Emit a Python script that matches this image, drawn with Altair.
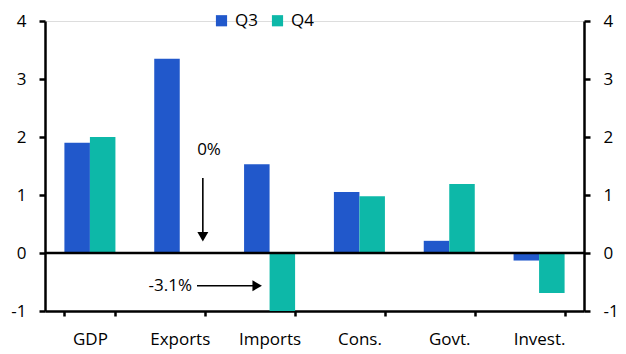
import altair as alt
import pandas as pd

categories = ["GDP", "Exports", "Imports", "Cons.", "Govt.", "Invest."]
q3 = [1.9, 3.35, 1.53, 1.05, 0.21, -0.13]
q4 = [2.0, 0.0, -3.1, 0.98, 1.19, -0.69]
series = ["Q3", "Q4"]
colors = ["#2158CB", "#0DB8A8"]
y_ticks = [-1, 0, 1, 2, 3, 4]

# annotation arrows (in a 0..6 category-position space) and labels
arrow_x = [1.757, 1.692]
arrow_x2 = [1.757, 2.362]
arrow_y = [1.293, -0.564]
arrow_y2 = [0.28, -0.564]
head_shape = ["triangle-down", "triangle-right"]
label_text = ["0%", "-3.1%"]
label_x = [1.826, 1.637]
label_y = [1.78, -0.564]
label_align = ["center", "right"]

rows = []
for c, a, b in zip(categories, q3, q4):
    rows.append({"cat": c, "series": "Q3", "value": a})
    rows.append({"cat": c, "series": "Q4", "value": b})
df = pd.DataFrame(rows)

FONT = "Open Sans"
FS = 17

yscale = alt.Scale(domain=[-1, 4], nice=False, zero=False, clamp=True)

bars = alt.Chart(df).mark_bar().encode(
    x=alt.X("cat:N", sort=categories, title=None,
            scale=alt.Scale(paddingInner=0.432, paddingOuter=0.216),
            axis=alt.Axis(labelAngle=0, tickBand="extent", domainColor="black",
                          domainWidth=2.5, tickColor="black", tickWidth=2.5,
                          tickSize=5, labelPadding=15, labelFont=FONT,
                          labelFontSize=FS, labelColor="black", grid=False)),
    xOffset=alt.XOffset("series:N", sort=series),
    y=alt.Y("value:Q", scale=yscale, title=None,
            axis=alt.Axis(values=y_ticks, labelExpr="datum.value + ''",
                          domainColor="black", domainWidth=2.5, tickColor="black",
                          tickWidth=2.5, tickSize=6, labelPadding=13,
                          labelFont=FONT, labelFontSize=FS, labelColor="black",
                          grid=False)),
    color=alt.Color("series:N", sort=series,
                    scale=alt.Scale(domain=series, range=colors),
                    legend=alt.Legend(title=None, orient="none", legendX=168,
                                      legendY=-9, direction="horizontal",
                                      symbolType="square", symbolSize=125,
                                      symbolStrokeWidth=0, labelFont=FONT,
                                      labelFontSize=FS, labelColor="black",
                                      columnPadding=11, labelOffset=5,
                                      padding=0)),
)

zero = alt.Chart(pd.DataFrame({"z": [0]})).mark_rule(
    color="black", strokeWidth=2.5).encode(y=alt.Y("z:Q", scale=yscale))

left = alt.layer(bars, zero)

arr = pd.DataFrame({"x": arrow_x, "x2": arrow_x2, "y": arrow_y, "y2": arrow_y2,
                    "shape": head_shape})
lab = pd.DataFrame({"x": label_x, "y": label_y, "t": label_text, "al": label_align})

xa = alt.Scale(domain=[0, 6], nice=False, zero=False)
ya = alt.Scale(domain=[-1, 4], nice=False, zero=False)

right_axis = alt.Axis(values=y_ticks, labelExpr="datum.value + ''", orient="right",
                      domainColor="black", domainWidth=2.5, tickColor="black",
                      tickWidth=2.5, tickSize=6, labelPadding=13, labelFont=FONT,
                      labelFontSize=FS, labelColor="black", grid=False)

lines = alt.Chart(arr).mark_rule(color="black", strokeWidth=1.6).encode(
    x=alt.X("x:Q", scale=xa, axis=None), x2="x2:Q",
    y=alt.Y("y:Q", scale=ya, title=None, axis=right_axis), y2="y2:Q")

heads = alt.Chart(arr).mark_point(filled=True, color="black", size=120, opacity=1).encode(
    x=alt.X("x2:Q", scale=xa, axis=None),
    y=alt.Y("y2:Q", scale=ya),
    shape=alt.Shape("shape:N", scale=None, legend=None))

texts_c = alt.Chart(lab[lab.al == "center"]).mark_text(
    font=FONT, fontSize=FS, color="black", align="center", baseline="middle").encode(
    x=alt.X("x:Q", scale=xa, axis=None), y=alt.Y("y:Q", scale=ya), text="t:N")
texts_r = alt.Chart(lab[lab.al == "right"]).mark_text(
    font=FONT, fontSize=FS, color="black", align="right", baseline="middle").encode(
    x=alt.X("x:Q", scale=xa, axis=None), y=alt.Y("y:Q", scale=ya), text="t:N")

right = alt.layer(lines, heads, texts_c, texts_r)

chart = alt.layer(left, right).resolve_scale(
    x="independent", y="independent", color="independent", shape="independent"
).properties(
    width=539, height=290,
    autosize=alt.AutoSizeParams(type="none"),
    padding={"left": 45, "top": 21, "right": 42, "bottom": 43},
).configure_view(stroke=None).configure(background="white")

chart.save("out.html", embed_options={"renderer": "svg", "actions": False})
